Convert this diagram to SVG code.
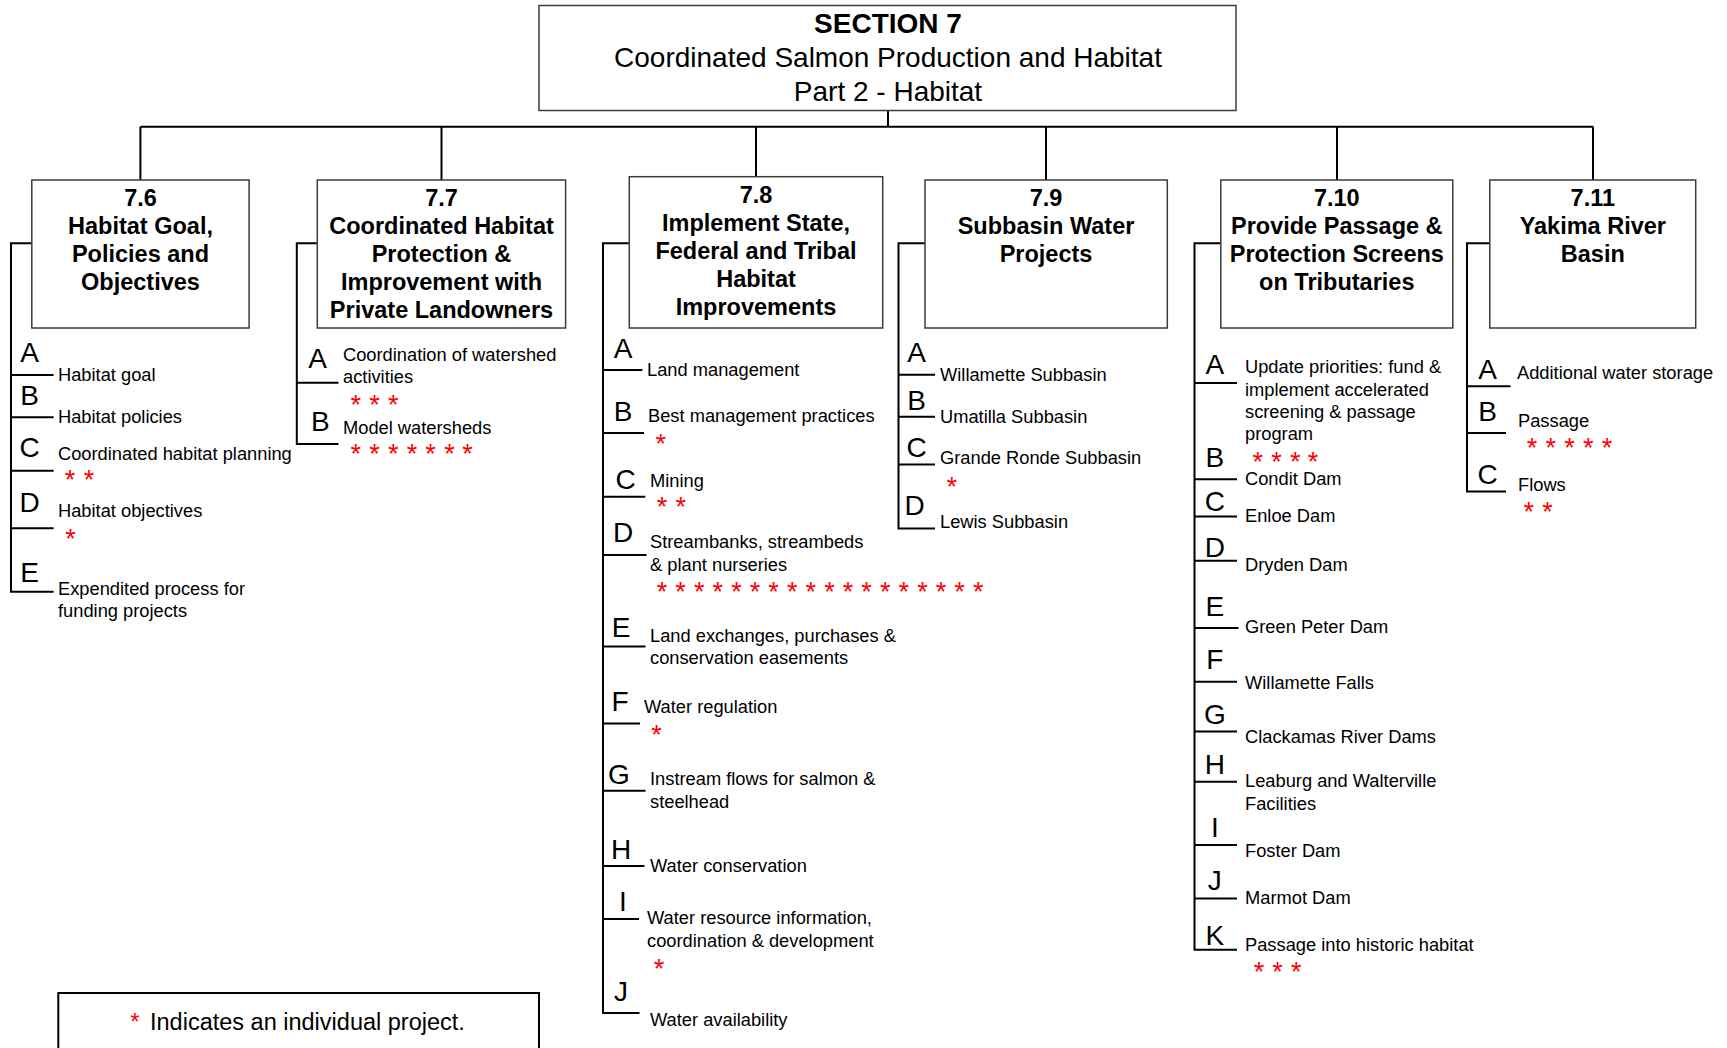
<svg xmlns="http://www.w3.org/2000/svg" width="1727" height="1048" viewBox="0 0 1727 1048">
  <style>
    text { font-family: "Liberation Sans", Arial, sans-serif; fill: #000; }
    .box { fill: #fff; stroke: #3c3c3c; stroke-width: 1.5; }
    .ln { stroke: #000; stroke-width: 2; fill: none; }
    .hdr { font-size: 28px; text-anchor: middle; }
    .hdrb { font-size: 28px; font-weight: bold; text-anchor: middle; }
    .ttl { font-size: 23.5px; font-weight: bold; text-anchor: middle; }
    .ltr { font-size: 28px; text-anchor: middle; }
    .itm { font-size: 18.3px; }
    .star { font-size: 27px; fill: #ff0000; text-anchor: middle; }
    .leg { font-size: 23.5px; }
  </style>
  <rect width="1727" height="1048" fill="#fff"/>

  <!-- tree and bracket lines -->
  <g id="connectors" class="ln">
    <path d="M888 110.5 V126.7 M140.4 126.7 H1593.4 M140.4 126.7 V180 M441.5 126.7 V180 M756 126.7 V176.7 M1046 126.7 V180 M1337 126.7 V180 M1593 126.7 V180"/>
    <!-- 7.6 bracket -->
    <path d="M31.8 243.3 H11 V591.7 H53.6 M11 375 H53.6 M11 417.3 H53.6 M11 470.7 H53.6 M11 528.3 H53.6"/>
    <!-- 7.7 bracket -->
    <path d="M317.3 243.3 H296.8 V444 H338.5 M296.8 382.7 H338.5"/>
    <!-- 7.8 bracket -->
    <path d="M629.3 243.3 H603 V1013 H639.5 M603 370 H642.3 M603 433 H644 M603 496.7 H645.3 M603 555 H646.5 M603 646.6 H645.5 M603 723.4 H640 M603 790.8 H645.5 M603 866 H644.5 M603 919 H639"/>
    <!-- 7.9 bracket -->
    <path d="M925 243.3 H898.5 V528.5 H935 M898.5 374.8 H935 M898.5 416.8 H935 M898.5 464.5 H935"/>
    <!-- 7.10 bracket -->
    <path d="M1220.8 243.3 H1194.5 V949.8 H1237 M1194.5 383 H1237 M1194.5 479.2 H1237 M1194.5 516.6 H1237 M1194.5 560.7 H1237 M1194.5 628 H1238.5 M1194.5 681.8 H1237 M1194.5 731.5 H1237 M1194.5 781.8 H1237 M1194.5 845 H1237 M1194.5 898.5 H1237"/>
    <!-- 7.11 bracket -->
    <path d="M1495.8 243.3 H1467 V491.5 H1506 M1467 386.3 H1510.5 M1467 433 H1506"/>
  </g>

  <g id="section7">
    <rect class="box" x="539" y="5.5" width="697" height="105"/>
    <text class="hdrb" x="888" y="32.5">SECTION 7</text>
    <text class="hdr" x="888" y="67">Coordinated Salmon Production and Habitat</text>
    <text class="hdr" x="888" y="101">Part 2 - Habitat</text>
  </g>

  <!-- 7.6 -->
  <g id="s7-6">
    <rect class="box" x="31.8" y="180" width="217.3" height="148"/>
    <text class="ttl" x="140.5" y="206">7.6</text>
    <text class="ttl" x="140.5" y="234">Habitat Goal,</text>
    <text class="ttl" x="140.5" y="262">Policies and</text>
    <text class="ttl" x="140.5" y="290">Objectives</text>
  </g>
  <g id="s7-6-items">
    <g id="s7-6-a"><text class="ltr" x="29.7" y="362">A</text><text class="itm" x="58" y="381">Habitat goal</text></g>
    <g id="s7-6-b"><text class="ltr" x="29.7" y="405">B</text><text class="itm" x="58" y="423">Habitat policies</text></g>
    <g id="s7-6-c"><text class="ltr" x="29.7" y="457">C</text><text class="itm" x="58" y="459.5">Coordinated habitat planning</text>
      <text class="star" x="70 89" y="489">**</text></g>
    <g id="s7-6-d"><text class="ltr" x="29.7" y="511.5">D</text><text class="itm" x="58" y="517">Habitat objectives</text>
      <text class="star" x="70.4" y="548">*</text></g>
    <g id="s7-6-e"><text class="ltr" x="29.7" y="581.7">E</text><text class="itm" x="58" y="594.5">Expendited process for</text><text class="itm" x="58" y="616.5">funding projects</text></g>
  </g>

  <!-- 7.7 -->
  <g id="s7-7">
    <rect class="box" x="317.3" y="180" width="248.3" height="148"/>
    <text class="ttl" x="441.5" y="206">7.7</text>
    <text class="ttl" x="441.5" y="234">Coordinated Habitat</text>
    <text class="ttl" x="441.5" y="262">Protection &amp;</text>
    <text class="ttl" x="441.5" y="290">Improvement with</text>
    <text class="ttl" x="441.5" y="318">Private Landowners</text>
  </g>
  <g id="s7-7-items">
    <g id="s7-7-a"><text class="ltr" x="317.5" y="368">A</text><text class="itm" x="343" y="361">Coordination of watershed</text><text class="itm" x="343" y="383">activities</text>
      <text class="star" x="355.7 374.5 393.2" y="413.5">***</text></g>
    <g id="s7-7-b"><text class="ltr" x="320.3" y="431">B</text><text class="itm" x="343" y="433.5">Model watersheds</text>
      <text class="star" x="355.7 374.4 393.2 412 430.6 449.4 467.5" y="463">*******</text></g>
  </g>

  <!-- 7.8 -->
  <g id="s7-8">
    <rect class="box" x="629.3" y="176.7" width="253.4" height="151.3"/>
    <text class="ttl" x="756" y="203">7.8</text>
    <text class="ttl" x="756" y="231">Implement State,</text>
    <text class="ttl" x="756" y="259">Federal and Tribal</text>
    <text class="ttl" x="756" y="287">Habitat</text>
    <text class="ttl" x="756" y="315">Improvements</text>
  </g>
  <g id="s7-8-items">
    <g id="s7-8-a"><text class="ltr" x="623" y="357.5">A</text><text class="itm" x="647" y="376">Land management</text></g>
    <g id="s7-8-b"><text class="ltr" x="623" y="421">B</text><text class="itm" x="648" y="422">Best management practices</text>
      <text class="star" x="660.7" y="453">*</text></g>
    <g id="s7-8-c"><text class="ltr" x="625.6" y="488.5">C</text><text class="itm" x="650" y="486.5">Mining</text>
      <text class="star" x="662 680.7" y="516">**</text></g>
    <g id="s7-8-d"><text class="ltr" x="623" y="541.5">D</text><text class="itm" x="650" y="548">Streambanks, streambeds</text><text class="itm" x="650" y="570.5">&amp; plant nurseries</text>
      <text class="star" x="662 680.6 699.2 717.8 736.4 755 773.6 792.2 810.8 829.4 848 866.6 885.2 903.8 922.4 941 959.6 978.2" y="600.5">******************</text></g>
    <g id="s7-8-e"><text class="ltr" x="621" y="636.7">E</text><text class="itm" x="650" y="642">Land exchanges, purchases &amp;</text><text class="itm" x="650" y="664">conservation easements</text></g>
    <g id="s7-8-f"><text class="ltr" x="620" y="710.5">F</text><text class="itm" x="644" y="713">Water regulation</text>
      <text class="star" x="656.6" y="743.5">*</text></g>
    <g id="s7-8-g"><text class="ltr" x="619" y="784">G</text><text class="itm" x="650" y="785">Instream flows for salmon &amp;</text><text class="itm" x="650" y="808">steelhead</text></g>
    <g id="s7-8-h"><text class="ltr" x="621" y="858.8">H</text><text class="itm" x="650" y="872">Water conservation</text></g>
    <g id="s7-8-i"><text class="ltr" x="623" y="910.5">I</text><text class="itm" x="647" y="924">Water resource information,</text><text class="itm" x="647" y="947">coordination &amp; development</text>
      <text class="star" x="659" y="977.5">*</text></g>
    <g id="s7-8-j"><text class="ltr" x="621" y="1001">J</text><text class="itm" x="650" y="1025.5">Water availability</text></g>
  </g>

  <!-- 7.9 -->
  <g id="s7-9">
    <rect class="box" x="925" y="180" width="242.3" height="148"/>
    <text class="ttl" x="1046" y="206">7.9</text>
    <text class="ttl" x="1046" y="234">Subbasin Water</text>
    <text class="ttl" x="1046" y="262">Projects</text>
  </g>
  <g id="s7-9-items">
    <g id="s7-9-a"><text class="ltr" x="916.5" y="362.3">A</text><text class="itm" x="940" y="381">Willamette Subbasin</text></g>
    <g id="s7-9-b"><text class="ltr" x="916.5" y="410">B</text><text class="itm" x="940" y="423">Umatilla Subbasin</text></g>
    <g id="s7-9-c"><text class="ltr" x="916.5" y="456.5">C</text><text class="itm" x="940" y="463.8">Grande Ronde Subbasin</text>
      <text class="star" x="951.8" y="495.5">*</text></g>
    <g id="s7-9-d"><text class="ltr" x="914.5" y="514.8">D</text><text class="itm" x="940" y="527.5">Lewis Subbasin</text></g>
  </g>

  <!-- 7.10 -->
  <g id="s7-10">
    <rect class="box" x="1220.8" y="180" width="232" height="148"/>
    <text class="ttl" x="1336.8" y="206">7.10</text>
    <text class="ttl" x="1336.8" y="234">Provide Passage &amp;</text>
    <text class="ttl" x="1336.8" y="262">Protection Screens</text>
    <text class="ttl" x="1336.8" y="290">on Tributaries</text>
  </g>
  <g id="s7-10-items">
    <g id="s7-10-a"><text class="ltr" x="1214.8" y="373.5">A</text>
      <text class="itm" x="1245" y="373.3">Update priorities: fund &amp;</text><text class="itm" x="1245" y="395.5">implement accelerated</text><text class="itm" x="1245" y="418.3">screening &amp; passage</text><text class="itm" x="1245" y="440.3">program</text>
      <text class="star" x="1257.8 1276.5 1295.2 1313" y="470.5">****</text></g>
    <g id="s7-10-b"><text class="ltr" x="1214.8" y="467.3">B</text><text class="itm" x="1245" y="485">Condit Dam</text></g>
    <g id="s7-10-c"><text class="ltr" x="1214.8" y="510.8">C</text><text class="itm" x="1245" y="522">Enloe Dam</text></g>
    <g id="s7-10-d"><text class="ltr" x="1214.8" y="557">D</text><text class="itm" x="1245" y="571">Dryden Dam</text></g>
    <g id="s7-10-e"><text class="ltr" x="1214.8" y="615.5">E</text><text class="itm" x="1245" y="633">Green Peter Dam</text></g>
    <g id="s7-10-f"><text class="ltr" x="1214.8" y="668.5">F</text><text class="itm" x="1245" y="689">Willamette Falls</text></g>
    <g id="s7-10-g"><text class="ltr" x="1214.8" y="724">G</text><text class="itm" x="1245" y="743">Clackamas River Dams</text></g>
    <g id="s7-10-h"><text class="ltr" x="1214.8" y="774.2">H</text><text class="itm" x="1245" y="787.4">Leaburg and Walterville</text><text class="itm" x="1245" y="809.5">Facilities</text></g>
    <g id="s7-10-i"><text class="ltr" x="1214.8" y="836.8">I</text><text class="itm" x="1245" y="856.5">Foster Dam</text></g>
    <g id="s7-10-j"><text class="ltr" x="1214.8" y="889.7">J</text><text class="itm" x="1245" y="904.3">Marmot Dam</text></g>
    <g id="s7-10-k"><text class="ltr" x="1214.8" y="944.5">K</text><text class="itm" x="1245" y="951.3">Passage into historic habitat</text>
      <text class="star" x="1258.9 1277.6 1296.3" y="981">***</text></g>
  </g>

  <!-- 7.11 -->
  <g id="s7-11">
    <rect class="box" x="1489.8" y="180" width="205.9" height="148"/>
    <text class="ttl" x="1592.8" y="206">7.11</text>
    <text class="ttl" x="1592.8" y="234">Yakima River</text>
    <text class="ttl" x="1592.8" y="262">Basin</text>
  </g>
  <g id="s7-11-items">
    <g id="s7-11-a"><text class="ltr" x="1487.5" y="379">A</text><text class="itm" x="1517" y="378.6">Additional water storage</text></g>
    <g id="s7-11-b"><text class="ltr" x="1487.5" y="420.8">B</text><text class="itm" x="1518" y="427">Passage</text>
      <text class="star" x="1532 1550.8 1569.5 1588.2 1607" y="457">*****</text></g>
    <g id="s7-11-c"><text class="ltr" x="1487.5" y="483.8">C</text><text class="itm" x="1518" y="491">Flows</text>
      <text class="star" x="1528.7 1547.5" y="520.6">**</text></g>
  </g>

  <!-- legend -->
  <g id="legend">
    <rect x="58.3" y="993" width="480.7" height="70" fill="#fff" stroke="#000" stroke-width="2"/>
    <text class="star" x="135" y="1029.5" style="font-size:24px">*</text>
    <text class="leg" x="150" y="1030">Indicates an individual project.</text>
  </g>
</svg>
